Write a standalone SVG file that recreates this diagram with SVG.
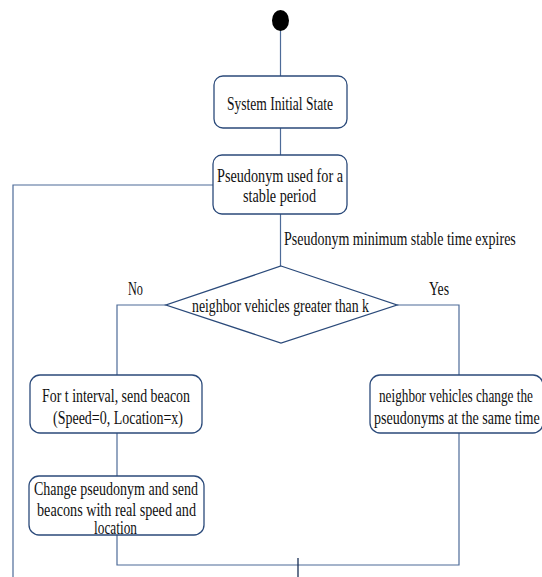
<svg xmlns="http://www.w3.org/2000/svg" width="542" height="577" viewBox="0 0 542 577">
<style>
.box{fill:#fff;stroke:#2b4a7a;stroke-width:1.3}
.ln{fill:none;stroke:#4d6b98;stroke-width:1.2}
text{font-family:"Liberation Serif","Times New Roman",serif;font-size:18.5px;fill:#111}
</style>
<rect width="542" height="577" fill="#fff"/>
<g id="connectors">
<line class="ln" x1="280.5" y1="30" x2="280.5" y2="76"/>
<line class="ln" x1="280.5" y1="128" x2="280.5" y2="155"/>
<line class="ln" x1="280.5" y1="214" x2="280.5" y2="266"/>
<polyline class="ln" points="166,305 117,305 117,375"/>
<polyline class="ln" points="397,305 459,305 459,375"/>
<line class="ln" x1="117" y1="433" x2="117" y2="476"/>
<polyline class="ln" points="117,535 117,565 459,565 459,433"/>
<line x1="298" y1="558" x2="298" y2="577" stroke="#1a2f55" stroke-width="1.3"/>
<polyline class="ln" points="13,577 13,185 213,185"/>
<text transform="translate(284,245) scale(0.76,1)" textLength="305" lengthAdjust="spacingAndGlyphs">Pseudonym minimum stable time expires</text>
<text x="128" y="295" textLength="15" lengthAdjust="spacingAndGlyphs">No</text>
<text x="429" y="295" textLength="20" lengthAdjust="spacingAndGlyphs">Yes</text>
</g>
<g id="start">
<ellipse cx="280.5" cy="20.5" rx="8.5" ry="10.5" fill="#000"/>
</g>
<g id="initial">
<rect class="box" x="214" y="76" width="133" height="52" rx="9"/>
<text x="227" y="110" textLength="106" lengthAdjust="spacingAndGlyphs">System Initial State</text>
</g>
<g id="stable">
<rect class="box" x="213" y="155" width="134" height="59" rx="9"/>
<text x="217" y="182" textLength="126" lengthAdjust="spacingAndGlyphs">Pseudonym used for a</text>
<text x="243" y="202" textLength="73" lengthAdjust="spacingAndGlyphs">stable period</text>
</g>
<g id="decision">
<polygon points="281,266 397,305 281,343 166,305" fill="#fff" stroke="#2b4a7a" stroke-width="1.3"/>
<text x="192" y="312" textLength="177" lengthAdjust="spacingAndGlyphs">neighbor vehicles greater than k</text>
</g>
<g id="beacon">
<rect class="box" x="30" y="375" width="172" height="58" rx="10"/>
<text x="42" y="402" textLength="148" lengthAdjust="spacingAndGlyphs">For t interval, send beacon</text>
<text x="53" y="424" textLength="130" lengthAdjust="spacingAndGlyphs">(Speed=0, Location=x)</text>
</g>
<g id="change">
<rect class="box" x="29" y="476" width="175" height="59" rx="10"/>
<text x="34" y="495" textLength="164" lengthAdjust="spacingAndGlyphs">Change pseudonym and send</text>
<text x="37" y="516" textLength="159" lengthAdjust="spacingAndGlyphs">beacons with real speed and</text>
<text x="94" y="534" textLength="43" lengthAdjust="spacingAndGlyphs">location</text>
</g>
<g id="neighbors">
<rect class="box" x="370" y="375" width="173" height="58" rx="10"/>
<text transform="translate(379,402) scale(0.76,1)" textLength="202.5" lengthAdjust="spacingAndGlyphs">neighbor vehicles change the</text>
<text transform="translate(374,424) scale(0.76,1)" textLength="218" lengthAdjust="spacingAndGlyphs">pseudonyms at the  same time</text>
</g>
</svg>
